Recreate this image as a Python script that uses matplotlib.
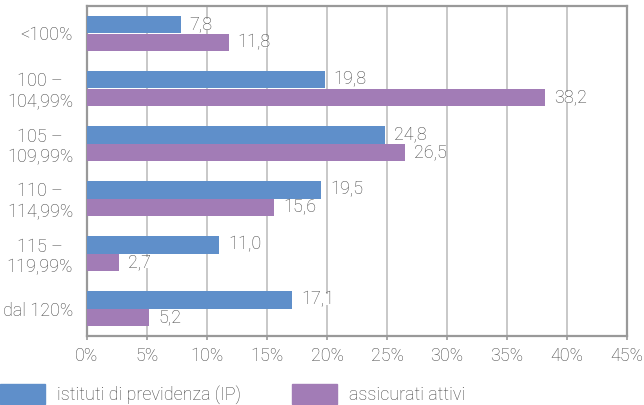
import matplotlib
matplotlib.use("Agg")
import matplotlib.pyplot as plt
import numpy as np
from matplotlib.patches import Rectangle

categories = ["<100%", "100 –\n104,99%", "105 –\n109,99%", "110 –\n114,99%", "115 –\n119,99%", "dal 120%"]
ip_values = [7.8, 19.8, 24.8, 19.5, 11.0, 17.1]
attivi_values = [11.8, 38.2, 26.5, 15.6, 2.7, 5.2]
series_names = ["istituti di previdenza (IP)", "assicurati attivi"]
x_ticks = [0, 5, 10, 15, 20, 25, 30, 35, 40, 45]

blue = "#5f8fca"
purple = "#a27cb6"
txt = "#444444"
fs = 13

plt.rcParams["font.family"] = ["Roboto", "DejaVu Sans"]
plt.rcParams["font.weight"] = "light"

W, H = 644, 405
fig = plt.figure(figsize=(W / 100, H / 100), dpi=100)
ax = fig.add_axes([87/W, (H - 336)/H, 540/W, 330/H])

y = np.arange(len(categories))
h = 0.327
ax.barh(y - h/2, ip_values, height=h, color=blue, zorder=3)
ax.barh(y + h/2, attivi_values, height=h, color=purple, zorder=3)

# tight white box behind labels hides the gridlines only
box = dict(facecolor="white", edgecolor="none", pad=-2.5)
for offs, vals in ((-h/2, ip_values), (h/2, attivi_values)):
    for yi, v in zip(y + offs, vals):
        ax.text(v + 0.75, yi, f"{v:.1f}".replace(".", ","), va="center", ha="left",
                fontsize=fs, color=txt, bbox=box, zorder=4)

ax.set_ylim(len(categories) - 0.5, -0.5)
ax.set_yticks(y)
ax.set_yticklabels(categories, multialignment="center", fontsize=fs, color=txt)
ax.tick_params(axis="y", length=0, pad=10)

ax.set_xlim(0, 45)
ax.set_xticks(x_ticks)
ax.set_xticklabels([f"{t}%" for t in x_ticks], fontsize=fs, color=txt)
ax.tick_params(axis="x", length=3, width=1.2, color="#999999", pad=5)

ax.grid(axis="x", color="#c8c8c8", linewidth=1.4, zorder=0)
for s in ax.spines.values():
    s.set_color("#999999")
    s.set_linewidth(1.6)

# legend drawn in figure pixel coords
for x0, col, name in ((0, blue, series_names[0]), (292, purple, series_names[1])):
    fig.add_artist(Rectangle((x0 / W, 1 / H), 45 / W, 20 / H, transform=fig.transFigure,
                             color=col, clip_on=False))
    fig.text((x0 + 57) / W, 10 / H, name, fontsize=fs, color=txt, va="center", ha="left")

fig.savefig("out.png", dpi=100)
